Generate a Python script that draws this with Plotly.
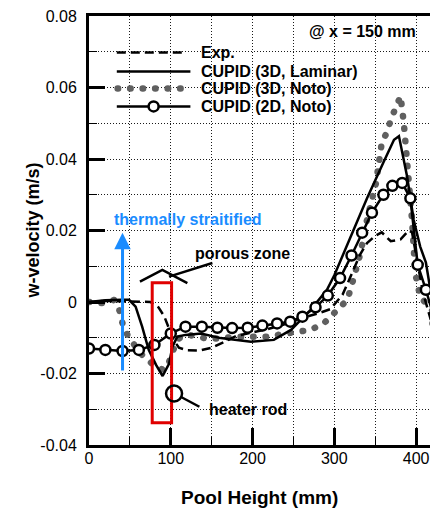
import plotly.graph_objects as go

# ---------------- data ----------------
exp_x = [0, 20, 40, 60, 75, 85, 92, 98, 103, 110, 120, 135, 150, 165, 180, 200, 220,
         240, 260, 280, 295, 310, 322, 332, 340, 350, 358, 369, 381, 391, 395, 401, 408, 418]
exp_y = [0.0, 0.0003, 0.0002, 0.0001, 0.0, -0.0015, -0.004, -0.0075, -0.0105, -0.0128,
         -0.0135, -0.0136, -0.0128, -0.0112, -0.0095, -0.0085, -0.0075, -0.0062, -0.0045,
         -0.0032, -0.002, 0.002, 0.008, 0.0135, 0.0165, 0.0185, 0.0195, 0.017, 0.0175,
         0.020, 0.0195, 0.012, 0.003, -0.005]

lam_x = [0, 20, 40, 49, 57, 65, 73, 82, 90, 98, 102, 108, 118, 137, 161, 198, 226, 247,
         271, 291, 300, 320, 340, 360, 373, 379, 389, 397, 405, 412, 420]
lam_y = [0.0, 0.0005, 0.0006, 0.0006, -0.0013, -0.0069, -0.0134, -0.0176, -0.0207,
         -0.0172, -0.0125, -0.0097, -0.0092, -0.0088, -0.0101, -0.0111, -0.0106, -0.0078,
         -0.0022, 0.0034, 0.0075, 0.0185, 0.029, 0.039, 0.0454, 0.0464, 0.0351, 0.023,
         0.0155, 0.011, 0.0]

noto3d_x = [0, 17, 31, 37, 41, 47, 57, 65, 77, 90, 96, 102, 110, 122, 143, 157, 181, 218,
            255, 271, 287, 304, 316, 322, 332, 340, 351, 358, 365, 369, 375, 381, 385, 389,
            393, 395, 397, 399, 405, 414, 422]
noto3d_y = [0.0, -0.0003, 0.0006, -0.0022, -0.006, -0.0092, -0.0125, -0.0148, -0.0172,
            -0.0189, -0.0181, -0.0139, -0.0102, -0.0092, -0.0102, -0.0102, -0.0097, -0.0097,
            -0.0083, -0.0078, -0.006, -0.0022, 0.0006, 0.0053, 0.0137, 0.023, 0.0333,
            0.0445, 0.0478, 0.051, 0.0548, 0.0576, 0.050, 0.040, 0.032, 0.023, 0.0155,
            0.008, 0.0015, -0.0013, -0.003]

noto2d_x = [0, 20, 41, 61, 80, 100, 118, 138, 157, 175, 194, 212, 230, 246, 261, 277, 292,
            307, 321, 334, 346, 360, 371, 383, 393, 402, 412, 424]
noto2d_y = [-0.013, -0.0134, -0.0137, -0.0134, -0.012, -0.0088, -0.0069, -0.0069, -0.0072,
            -0.0073, -0.0072, -0.0066, -0.006, -0.0055, -0.0041, -0.0015, 0.0018, 0.0067,
            0.013, 0.0194, 0.025, 0.030, 0.0325, 0.0333, 0.029, 0.0104, 0.0034, -0.006]

series_names = ["Exp.", "CUPID (3D, Laminar)", "CUPID (3D, Noto)", "CUPID (2D, Noto)"]
x_ticks = [0, 100, 200, 300, 400]
y_ticks = [-0.04, -0.02, 0, 0.02, 0.04, 0.06, 0.08]
y_tick_text = ["-0.04", "-0.02", "0", "0.02", "0.04", "0.06", "0.08"]

FONT = "Liberation Sans, Arial, sans-serif"
GRAY = "#606060"
BLUE = "#1a8cff"
RED = "#e00000"
DOTS = "0.5px,12px"

fig = go.Figure()
fig.add_trace(go.Scatter(x=noto3d_x, y=noto3d_y, mode="lines", name=series_names[2],
                         line=dict(color=GRAY, width=6.5, dash=DOTS)))
fig.add_trace(go.Scatter(x=exp_x, y=exp_y, mode="lines", name=series_names[0],
                         line=dict(color="black", width=2.5, dash="9px,5px")))
fig.add_trace(go.Scatter(x=lam_x, y=lam_y, mode="lines", name=series_names[1],
                         line=dict(color="black", width=2.5)))
fig.add_trace(go.Scatter(x=noto2d_x, y=noto2d_y, mode="lines+markers", name=series_names[3],
                         line=dict(color="black", width=2.5),
                         marker=dict(symbol="circle", size=10, color="white",
                                     line=dict(color="black", width=2.5))))

shapes = []
annotations = []

# ---- manual legend ----
leg_rows = [0.0698, 0.0645, 0.0597, 0.0547]
lx0, lx1, ltext = 34, 124, 134
shapes.append(dict(type="line", x0=lx0, x1=116, y0=leg_rows[0], y1=leg_rows[0],
                   line=dict(color="black", width=2.5, dash="9px,5px")))
shapes.append(dict(type="line", x0=lx0, x1=lx1, y0=leg_rows[1], y1=leg_rows[1],
                   line=dict(color="black", width=2.5)))
shapes.append(dict(type="line", x0=35, x1=117, y0=leg_rows[2], y1=leg_rows[2],
                   line=dict(color=GRAY, width=6.5, dash=DOTS)))
shapes.append(dict(type="line", x0=lx0, x1=lx1, y0=leg_rows[3], y1=leg_rows[3],
                   line=dict(color="black", width=2.5)))
shapes.append(dict(type="circle", xsizemode="pixel", ysizemode="pixel",
                   xanchor=79, yanchor=leg_rows[3], x0=-5, x1=5, y0=-5, y1=5,
                   fillcolor="white", line=dict(color="black", width=2.5)))
for name, ry in zip(series_names, leg_rows):
    annotations.append(dict(x=ltext, y=ry, text="<b>%s</b>" % name, showarrow=False,
                            xanchor="left", yanchor="middle",
                            font=dict(family=FONT, size=16, color="black")))

annotations.append(dict(x=334, y=0.0757, text="<b>@ x = 150 mm</b>", showarrow=False,
                        xanchor="center", yanchor="middle",
                        font=dict(family=FONT, size=16, color="black")))

# ---- thermally stratified arrow ----
annotations.append(dict(x=41, y=0.0194, ax=41, ay=-0.0196, axref="x", ayref="y",
                        text="", showarrow=True, arrowhead=2, arrowsize=1.1,
                        arrowwidth=3, arrowcolor=BLUE))
annotations.append(dict(x=121, y=0.023, text="<b>thermally straitified</b>", showarrow=False,
                        xanchor="center", yanchor="middle",
                        font=dict(family=FONT, size=16, color=BLUE)))

# ---- porous zone ----
shapes.append(dict(type="path", path="M 62.3,0.0057 L 89.7,0.0090 L 120.3,0.0053",
                   line=dict(color="black", width=2.5)))
shapes.append(dict(type="line", x0=97.8, y0=0.0071, x1=150.9, y1=0.0109,
                   line=dict(color="black", width=2.5)))
annotations.append(dict(x=188, y=0.0137, text="<b>porous zone</b>", showarrow=False,
                        xanchor="center", yanchor="middle",
                        font=dict(family=FONT, size=16, color="black")))

# ---- heater rod ----
shapes.append(dict(type="rect", x0=77.3, x1=101.0, y0=-0.0338, y1=0.0054,
                   line=dict(color=RED, width=3)))
shapes.append(dict(type="circle", xsizemode="pixel", ysizemode="pixel",
                   xanchor=104, yanchor=-0.0256, x0=-8, x1=8, y0=-8, y1=8,
                   line=dict(color="black", width=2.5)))
shapes.append(dict(type="line", x0=112, y0=-0.0265, x1=135, y1=-0.0293,
                   line=dict(color="black", width=2.5)))
annotations.append(dict(x=194, y=-0.0300, text="<b>heater rod</b>", showarrow=False,
                        xanchor="center", yanchor="middle",
                        font=dict(family=FONT, size=16, color="black")))

# ---- axis titles ----
annotations.append(dict(x=0.5, y=0, xref="paper", yref="paper", yshift=-52,
                        text="<b>Pool Height (mm)</b>", showarrow=False,
                        xanchor="center", yanchor="middle",
                        font=dict(family=FONT, size=19, color="black")))
annotations.append(dict(x=0, y=0.5, xref="paper", yref="paper", xshift=-57,
                        text="<b>w-velocity (m/s)</b>", showarrow=False, textangle=-90,
                        xanchor="center", yanchor="middle",
                        font=dict(family=FONT, size=18, color="black")))

GRID = dict(gridcolor="#1a1a1a", griddash="1px,2px", gridwidth=1, showgrid=True)

fig.update_layout(
    width=430, height=511,
    margin=dict(l=89, r=0, t=16, b=66),
    paper_bgcolor="white", plot_bgcolor="white",
    showlegend=False,
    shapes=shapes, annotations=annotations,
    font=dict(family=FONT, size=16, color="black"),
    xaxis=dict(range=[0, 417], tickvals=x_ticks, ticks="inside", ticklen=17, tickwidth=3,
               tickcolor="black", showline=True, linecolor="black", linewidth=3,
               mirror=True, zeroline=False, tickfont=dict(family=FONT, size=16),
               ticklabelstandoff=-3,
               minor=dict(dtick=50, ticks="inside", ticklen=8, tickwidth=1,
                          tickcolor="black", **GRID),
               **GRID),
    yaxis=dict(range=[-0.04, 0.08], tickvals=y_ticks, ticktext=y_tick_text, ticks="inside",
               ticklen=16, tickwidth=3, tickcolor="black", showline=True,
               linecolor="black", linewidth=3, mirror=False, zeroline=False,
               tickfont=dict(family=FONT, size=16), ticklabelstandoff=6,
               minor=dict(dtick=0.01, ticks="inside", ticklen=8, tickwidth=1,
                          tickcolor="black", **GRID),
               **GRID),
)

post = """
var gd = document.getElementById('{plot_id}');
function roundDots() {
  gd.querySelectorAll('path').forEach(function (p) {
    var d = (p.style.strokeDasharray || '').replace(/\\s/g, '');
    if (d.indexOf('0.5px,12px') === 0) { p.style.strokeLinecap = 'round'; }
  });
}
roundDots();
if (gd.on) { gd.on('plotly_afterplot', roundDots); }
"""

fig.write_html("out.html", post_script=post)
